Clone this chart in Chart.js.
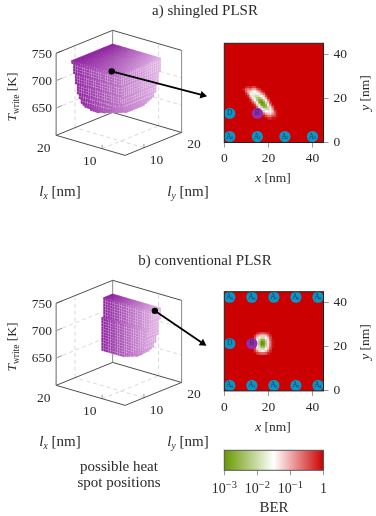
<!DOCTYPE html>
<html>
<head>
<meta charset="utf-8">
<script src="https://cdn.jsdelivr.net/npm/chart.js@4/dist/chart.umd.min.js"></script>
<style>
    body { margin: 0; background: #fff; width: 376px; height: 516px; overflow: hidden; position: relative; }
    canvas { position: absolute; }
    .lbl { position: absolute; transform: translate(-50%, -50%); white-space: nowrap; color: #2a2a2a; font: 13.5px "Liberation Serif", serif; }
    .big { font-size: 15px; }
    .rot { transform: translate(-50%, -50%) rotate(-90deg); }
    sub { font-size: 9.5px; vertical-align: -3px; line-height: 0; }
</style>
</head>
<body>
<canvas id="box-a" width="212" height="200" style="left:0;top:0"></canvas>
<canvas id="box-b" width="212" height="200" style="left:0;top:250px"></canvas>
<canvas id="heat-a" width="164" height="160" style="left:212px;top:30px"></canvas>
<canvas id="heat-b" width="164" height="160" style="left:212px;top:280px"></canvas>
<canvas id="colorbar" width="164" height="60" style="left:212px;top:440px"></canvas>

<div class="lbl big" style="left:205px;top:10px">a) shingled PLSR</div>
<div class="lbl big" style="left:205px;top:260px">b) conventional PLSR</div>
<div class="lbl rot" style="left:12px;top:97px"><i>T</i><sub>write</sub> [K]</div>
<div class="lbl rot" style="left:12px;top:347px"><i>T</i><sub>write</sub> [K]</div>
<div class="lbl big" style="left:60px;top:191px"><i>l<sub>x</sub></i> [nm]</div>
<div class="lbl big" style="left:188px;top:191px"><i>l<sub>y</sub></i> [nm]</div>
<div class="lbl big" style="left:60px;top:441px"><i>l<sub>x</sub></i> [nm]</div>
<div class="lbl big" style="left:188px;top:441px"><i>l<sub>y</sub></i> [nm]</div>
<div class="lbl" style="left:273px;top:178px"><i>x</i> [nm]</div>
<div class="lbl rot" style="left:365px;top:93px"><i>y</i> [nm]</div>
<div class="lbl" style="left:273px;top:427px"><i>x</i> [nm]</div>
<div class="lbl rot" style="left:365px;top:342px"><i>y</i> [nm]</div>
<div class="lbl big" style="left:119px;top:466px">possible heat</div>
<div class="lbl big" style="left:119px;top:482px">spot positions</div>
<div class="lbl big" style="left:274px;top:507px">BER</div>

<script>
// 3D box axes
const lxRange = [5, 20];
const lyRange = [5, 20];
const tRange = [600, 750];
const lxTicks = [10, 20];
const lyTicks = [10, 20];
const tTicks = [650, 700, 750];

// voxel layers, lowest first: each one spans lxMin..20, lyMin..20 and 5 K in T,
// the front corner is cut by the given amount. lxMin = 20 means an empty layer
const layerT = [620, 625, 630, 635, 640, 645, 650, 655, 660, 665, 670, 675, 680, 685, 690, 695, 700, 705, 710, 715, 720];
const lxMinA = [15, 14.5, 13, 12.5, 12, 11.5, 11, 11, 10.5, 10.5, 10.5, 10, 10, 10, 10, 10, 9.5, 9.5, 9.5, 9.5, 9.5];
const lyMinA = [14, 13.5, 12.5, 12, 11.5, 11.5, 11, 11, 10.5, 10.5, 10.5, 10.5, 10, 10, 10, 10, 9.5, 9.5, 9.5, 9.5, 9];
const cutA = [3, 3, 2.5, 2, 1.5, 1, 1, 0.5, 0.5, 0, 0, 0, 0, 0, 0, 0, 0, 0, 0, 0, 0];
const lxMinB = [20, 20, 13.5, 13, 12, 11.5, 11, 11, 10.5, 10.5, 10.5, 10, 10, 10, 10, 10, 10, 9.5, 9.5, 9.5, 9.5];
const lyMinB = [20, 20, 17, 17, 17, 17, 17, 17, 17, 17, 17, 17, 17, 17, 17.5, 17.5, 17.5, 17.5, 17.5, 17.5, 17.5];
const cutB = [0, 0, 1.5, 1, 1, 0.5, 0.5, 0, 0, 0, 0, 0, 0, 0, 0, 0, 0, 0, 0, 0, 0];

// arrows from the operating point to the heat map, in plot units
const arrowXA = [112, 207];
const arrowYA = [70, 95];
const arrowXB = [157, 207];
const arrowYB = [59, 93];

// heat map axes
const xyTicks = [0, 20, 40];

// BER maps, log10(BER) x 10, everything else is 0 (red)
const heatColsA = [9, 10, 11, 12, 13, 14, 15, 16, 17, 18, 19, 20, 21, 22, 23, 24];
const heatRowsA = [25, 24, 23, 22, 21, 20, 19, 18, 17, 16, 15, 14, 13, 12, 11];
const heatA = [
    [0, -2, -3, -2, -4, -4, -1, 0, 0, 0, 0, 0, 0, 0, 0, 0],
    [-2, -6, -8, -7, -10, -10, -6, -3, 0, 0, 0, 0, 0, 0, 0, 0],
    [0, -6, -11, -12, -14, -15, -12, -9, -4, -1, 0, 0, 0, 0, 0, 0],
    [0, -2, -8, -15, -17, -17, -16, -14, -10, -6, 0, 0, 0, 0, 0, 0],
    [0, 0, -3, -12, -17, -20, -20, -18, -15, -12, -4, 0, 0, 0, 0, 0],
    [0, 0, 0, -7, -14, -18, -23, -24, -20, -16, -10, -2, 0, 0, 0, 0],
    [0, 0, 0, -2, -10, -15, -22, -27, -28, -22, -15, -7, 0, 0, 0, 0],
    [0, 0, 0, 0, -4, -10, -16, -27, -30, -28, -20, -12, -3, 0, 0, 0],
    [0, 0, 0, 0, -1, -4, -12, -18, -28, -28, -25, -16, -8, -1, 0, 0],
    [0, 0, 0, 0, 0, -1, -6, -14, -20, -26, -25, -20, -13, -5, 0, 0],
    [0, 0, 0, 0, 0, 0, -1, -9, -15, -18, -20, -20, -16, -9, -1, 0],
    [0, 0, 0, 0, 0, 0, 0, -3, -10, -12, -15, -16, -16, -12, -4, 0],
    [0, 0, 0, 0, 0, 0, 0, 0, -4, -6, -10, -12, -13, -9, -6, -1],
    [0, 0, 0, 0, 0, 0, 0, 0, 0, -1, -4, -7, -8, -5, -4, -1],
    [0, 0, 0, 0, 0, 0, 0, 0, 0, 0, 0, -2, -3, -1, -1, 0]
];
const heatColsB = [13, 14, 15, 16, 17, 18, 19, 20, 21, 22];
const heatRowsB = [26, 25, 24, 23, 22, 21, 20, 19, 18, 17];
const heatB = [
    [0, 0, -2, -4, -5, -5, -4, -2, 0, 0],
    [0, -3, -8, -11, -12, -12, -11, -7, -2, 0],
    [0, -5, -12, -16, -20, -20, -15, -11, -4, 0],
    [-2, -7, -15, -20, -26, -26, -20, -13, -6, -1],
    [-3, -8, -16, -22, -30, -29, -22, -14, -7, -1],
    [-3, -8, -16, -22, -30, -29, -22, -14, -7, -1],
    [-2, -7, -15, -20, -26, -26, -20, -13, -6, -1],
    [0, -5, -12, -17, -20, -20, -16, -11, -4, 0],
    [0, -3, -8, -12, -14, -14, -11, -7, -2, 0],
    [0, 0, -3, -5, -6, -6, -5, -2, 0, 0]
];

// heat spot positions
const spotNamesA = ['A0', 'A1', 'A2', 'A3', 'D', 'B'];
const spotXA = [2.5, 15, 27.5, 40, 2.5, 15];
const spotYA = [2.7, 2.7, 2.7, 2.7, 13.2, 13.2];
const spotNamesB = ['A0', 'A1', 'A2', 'A3', 'A4', 'A5', 'A6', 'A7', 'A8', 'A9', 'D', 'B'];
const spotXB = [2.5, 12.5, 22.5, 32.5, 42.5, 2.5, 12.5, 22.5, 32.5, 42.5, 2.5, 12.5];
const spotYB = [2.5, 2.5, 2.5, 2.5, 2.5, 42.5, 42.5, 42.5, 42.5, 42.5, 21.5, 21.5];

// colour bar
const berRange = [[0.001, 1]];
const berTicks = [0.001, 0.01, 0.1, 1];
const berExponents = ['−3', '−2', '−1', ''];

const serif = '"Liberation Serif", serif';
const heatGreen = [104, 152, 0];
const heatRed = [204, 0, 0];

function project(lx, ly, t) {
    return {
        x: 126 - (lx - 5) * 4.8 + (ly - 5) * 3.93,
        y: 158 - (lx - 5) * 1.4 - (ly - 5) * 1.6 - (t - 600) * 0.573
    };
}

function segment(a, b) {
    return [project(a[0], a[1], a[2]), project(b[0], b[1], b[2])];
}

function berColor(v) {
    // v is log10(BER): red at 0, white at -1.5, green at -3
    const f = Math.min(Math.abs(v + 1.5) / 1.5, 1);
    const end = v > -1.5 ? heatRed : heatGreen;
    const c = end.map(e => Math.round(255 + (e - 255) * f));
    return `rgb(${c[0]},${c[1]},${c[2]})`;
}

function voxelCells(lxMin, lyMin, cut) {
    const cells = [];
    const add = (lx, ly, t, face) => cells.push({ ...project(lx, ly, t), lx, ly, t, face });
    layerT.forEach((t, k) => {
        const a = lxMin[k], b = lyMin[k];
        // ledge left open by a narrower layer above
        if (k < layerT.length - 1 && a < 20) {
            for (let ly = lyMin[k + 1]; ly > b; ly -= 0.5) {
                for (let lx = 20; lx > a; lx -= 0.5) add(lx, ly, t + 5, 'z');
            }
        }
        for (let ly = 20; ly > b; ly -= 0.5) {
            const face = a + Math.max(0, cut[k] - (ly - 0.5 - b));
            add(face, ly, t, 'x');
        }
        for (let lx = 20; lx > a; lx -= 0.5) {
            const face = b + Math.max(0, cut[k] - (lx - 0.5 - a));
            add(lx, face, t, 'y');
        }
    });
    const top = layerT.length - 1;
    for (let lx = 20; lx > lxMin[top]; lx -= 0.5) {
        for (let ly = 20; ly > lyMin[top]; ly -= 0.5) add(lx, ly, layerT[top] + 5, 'z');
    }
    return cells;
}

// draws the voxel faces right after their dataset, so the arrow stays on top
const voxelPlugin = {
    id: 'voxels',
    afterDatasetDraw(chart, args) {
        if (chart.data.datasets[args.index].label !== 'voxels') return;
        const ctx = chart.ctx, sx = chart.scales.x, sy = chart.scales.y;
        const cells = chart.data.datasets[args.index].data;
        ctx.save();
        ctx.lineWidth = 0.5;
        cells.forEach(c => {
            let q;
            if (c.face === 'x') {
                q = [[c.lx, c.ly, c.t], [c.lx, c.ly - 0.5, c.t], [c.lx, c.ly - 0.5, c.t + 5], [c.lx, c.ly, c.t + 5]];
            } else if (c.face === 'y') {
                q = [[c.lx, c.ly, c.t], [c.lx - 0.5, c.ly, c.t], [c.lx - 0.5, c.ly, c.t + 5], [c.lx, c.ly, c.t + 5]];
            } else {
                q = [[c.lx, c.ly, c.t], [c.lx - 0.5, c.ly, c.t], [c.lx - 0.5, c.ly - 0.5, c.t], [c.lx, c.ly - 0.5, c.t]];
            }
            const f = Math.min((20 - c.lx) / 10.5, 1) * (0.55 + 0.45 * Math.max(0, c.ly - 9) / 11);
            const r = Math.round(140 + 85 * f), g = Math.round(30 + 150 * f), b = Math.round(158 + 70 * f);
            ctx.beginPath();
            q.forEach((p, i) => {
                const s = project(p[0], p[1], p[2]);
                const px = sx.getPixelForValue(s.x), py = sy.getPixelForValue(s.y);
                if (i === 0) ctx.moveTo(px, py); else ctx.lineTo(px, py);
            });
            ctx.closePath();
            ctx.fillStyle = `rgb(${r},${g},${b})`;
            ctx.fill();
            ctx.strokeStyle = c.face === 'z' ? `rgb(${r},${g},${b})` : 'rgba(255,235,255,0.2)';
            ctx.stroke();
        });
        ctx.restore();
    },
    afterDraw(chart) {
        const ctx = chart.ctx, sx = chart.scales.x, sy = chart.scales.y;
        const put = (text, x, y) => ctx.fillText(text, sx.getPixelForValue(x), sy.getPixelForValue(y));
        ctx.save();
        ctx.font = '13.5px ' + serif;
        ctx.fillStyle = '#2a2a2a';
        ctx.textAlign = 'center';
        ctx.textBaseline = 'middle';
        tTicks.forEach(t => {
            const p = project(20, 5, t);
            put(String(t), p.x - 15, p.y + 1);
        });
        lxTicks.forEach(v => {
            const p = project(v, 5, 600);
            put(String(v), p.x - 13, p.y + 13.5);
        });
        lyTicks.forEach(v => {
            const p = project(5, v, 600);
            put(String(v), p.x + 13, p.y + 13);
        });
        ctx.restore();
    }
};

function lineSet(segments, color, width, dash, order) {
    // one dataset per segment group, gaps made with null points
    const data = [];
    segments.forEach(s => { data.push(s[0], s[1], { x: null, y: null }); });
    return {
        type: 'scatter', data, showLine: true, spanGaps: false, pointRadius: 0,
        borderColor: color, borderWidth: width, borderDash: dash, order
    };
}

function makeBox(id, lxMin, lyMin, cut, arrowX, arrowY) {
    const [x0, x1] = lxRange, [y0, y1] = lyRange, [t0, t1] = tRange;
    const grid = [];
    lyTicks.slice(0, 1).forEach(v => {
        grid.push(segment([x1, v, t0], [x1, v, t1]), segment([x0, v, t0], [x1, v, t0]));
    });
    lxTicks.slice(0, 1).forEach(v => {
        grid.push(segment([v, y1, t0], [v, y1, t1]), segment([v, y0, t0], [v, y1, t0]));
    });
    tTicks.slice(0, 2).forEach(t => {
        grid.push(segment([x1, y0, t], [x1, y1, t]), segment([x1, y1, t], [x0, y1, t]));
    });
    const marks = [];
    tTicks.forEach(t => marks.push(segment([x1, y0, t], [x1, y0 + 1.6, t])));
    lxTicks.forEach(v => marks.push(segment([v, y0, t0], [v, y0, t0 + 7])));
    lyTicks.forEach(v => marks.push(segment([x0, v, t0], [x0, v, t0 + 7])));
    const dark = [
        segment([x1, y0, t1], [x1, y1, t1]), segment([x1, y1, t1], [x0, y1, t1]),
        segment([x1, y0, t0], [x0, y0, t0]), segment([x0, y0, t0], [x0, y1, t0]),
        segment([x1, y0, t0], [x1, y1, t0]), segment([x1, y1, t0], [x0, y1, t0])
    ];
    const verticals = [segment([x1, y1, t0], [x1, y1, t1]), segment([x0, y1, t0], [x0, y1, t1])];
    const leftEdge = [segment([x1, y0, t0], [x1, y0, t1])];
    const angle = Math.atan2(arrowY[1] - arrowY[0], arrowX[1] - arrowX[0]) * 180 / Math.PI + 90;

    new Chart(document.getElementById(id), {
        type: 'scatter',
        data: {
            datasets: [
                lineSet(grid, '#d9d9d9', 1, [4, 3], 6),
                lineSet(marks, '#999', 1, [], 5),
                lineSet(verticals, '#8a8a8a', 1, [], 4),
                lineSet(leftEdge, '#a0a0a0', 1.6, [], 4),
                lineSet(dark, '#4d4d4d', 1, [], 3),
                { label: 'voxels', type: 'scatter', data: voxelCells(lxMin, lyMin, cut), pointRadius: 0, order: 2 },
                {
                    type: 'scatter',
                    data: arrowX.map((x, i) => ({ x, y: arrowY[i] })),
                    showLine: true, borderColor: '#000', borderWidth: 1.8,
                    backgroundColor: '#000', pointBackgroundColor: '#000', pointBorderWidth: 0,
                    pointStyle: ['circle', 'triangle'], pointRadius: [3.2, 4.5], pointRotation: [0, angle], order: 1
                }
            ]
        },
        options: {
            responsive: false,
            animation: false,
            layout: { padding: 0 },
            plugins: { legend: { display: false }, tooltip: { enabled: false } },
            scales: {
                x: { type: 'linear', min: 0, max: 212, display: false },
                y: { type: 'linear', min: 0, max: 200, reverse: true, display: false }
            }
        },
        plugins: [voxelPlugin]
    });
}

const heatPlugin = {
    id: 'heatFrame',
    beforeDatasetsDraw(chart) {
        const a = chart.chartArea;
        chart.ctx.fillStyle = '#cc0000';
        chart.ctx.fillRect(a.left, a.top, a.right - a.left, a.bottom - a.top);
    },
    // soften the 1 nm cells a little, the spots stay sharp
    beforeDatasetDraw(chart, args) {
        if (args.index === 0) chart.ctx.filter = 'blur(0.7px)';
    },
    afterDatasetDraw(chart, args) {
        if (args.index === 0) chart.ctx.filter = 'none';
    },
    afterDraw(chart) {
        const ctx = chart.ctx, a = chart.chartArea;
        const set = chart.data.datasets[1];
        ctx.save();
        ctx.strokeStyle = '#222';
        ctx.lineWidth = 1;
        ctx.strokeRect(a.left, a.top, a.right - a.left, a.bottom - a.top);
        ctx.fillStyle = '#123c5a';
        ctx.textAlign = 'center';
        ctx.textBaseline = 'middle';
        set.data.forEach(p => {
            const x = chart.scales.x.getPixelForValue(p.x), y = chart.scales.y.getPixelForValue(p.y);
            ctx.font = '7.5px ' + serif;
            if (p.name.length > 1) {
                ctx.fillText(p.name[0], x - 1, y);
                ctx.font = '5px ' + serif;
                ctx.fillText(p.name[1], x + 2.3, y + 1.5);
            } else {
                ctx.fillText(p.name, x, y);
            }
        });
        ctx.restore();
    }
};

function makeHeat(id, top, cols, rows, values, names, xs, ys) {
    const cells = [];
    rows.forEach((y, r) => cols.forEach((x, c) => {
        if (values[r][c] !== 0) cells.push({ x, y, v: values[r][c] / 10 });
    }));
    new Chart(document.getElementById(id), {
        type: 'scatter',
        data: {
            datasets: [
                {
                    data: cells, pointStyle: 'rect', pointRadius: 1.9, pointBorderWidth: 0,
                    pointBackgroundColor: c => berColor(c.raw.v), order: 2
                },
                {
                    data: names.map((name, i) => ({ x: xs[i], y: ys[i], name })),
                    pointRadius: 5.6, pointBorderWidth: 0,
                    pointBackgroundColor: c => (c.raw.name === 'B' ? '#9a2bb0' : '#0b96c6'), order: 1
                }
            ]
        },
        options: {
            responsive: false,
            animation: false,
            layout: { padding: { left: 12.3, top, right: 0, bottom: 0 } },
            plugins: { legend: { display: false }, tooltip: { enabled: false } },
            scales: {
                x: {
                    type: 'linear', min: 0, max: 45,
                    afterBuildTicks: s => { s.ticks = xyTicks.map(value => ({ value })); },
                    afterFit: s => { s.height = 160 - top - 99.2; s.paddingLeft = 0; s.paddingRight = 0; },
                    grid: { drawOnChartArea: false, drawTicks: true, tickLength: 5, color: '#999' },
                    border: { display: false },
                    ticks: { padding: 3, maxRotation: 0, color: '#2a2a2a', font: { family: serif, size: 13.5 } }
                },
                y: {
                    type: 'linear', min: 0, max: 45, position: 'right',
                    afterBuildTicks: s => { s.ticks = xyTicks.map(value => ({ value })); },
                    afterFit: s => { s.width = 164 - 12.3 - 99.2; s.paddingTop = 0; s.paddingBottom = 0; },
                    grid: { drawOnChartArea: false, drawTicks: true, tickLength: 5, color: '#999' },
                    border: { display: false },
                    ticks: { padding: 5, color: '#2a2a2a', font: { family: serif, size: 13.5 } }
                }
            }
        },
        plugins: [heatPlugin]
    });
}

function makeColorbar() {
    new Chart(document.getElementById('colorbar'), {
        type: 'bar',
        data: {
            labels: ['BER'],
            datasets: [{
                data: berRange,
                categoryPercentage: 1,
                barPercentage: 1,
                backgroundColor: c => {
                    const a = c.chart.chartArea;
                    if (!a) return '#fff';
                    const g = c.chart.ctx.createLinearGradient(a.left, 0, a.right, 0);
                    g.addColorStop(0, berColor(-3));
                    g.addColorStop(0.5, berColor(-1.5));
                    g.addColorStop(1, berColor(0));
                    return g;
                }
            }]
        },
        options: {
            indexAxis: 'y',
            responsive: false,
            animation: false,
            layout: { padding: { left: 12.3, top: 10.3, right: 52.5, bottom: 0 } },
            plugins: { legend: { display: false }, tooltip: { enabled: false } },
            scales: {
                x: {
                    type: 'logarithmic', min: 0.001, max: 1,
                    afterBuildTicks: s => { s.ticks = berTicks.map(value => ({ value })); },
                    afterFit: s => { s.height = 60 - 10.3 - 20; s.paddingLeft = 0; s.paddingRight = 0; },
                    grid: { drawOnChartArea: false, drawTicks: true, tickLength: 5, color: '#999' },
                    border: { display: false },
                    ticks: { display: false, autoSkip: false }
                },
                y: { display: false }
            }
        },
        plugins: [{
            id: 'barFrame',
            afterDraw(chart) {
                const ctx = chart.ctx, a = chart.chartArea, sx = chart.scales.x;
                ctx.save();
                ctx.strokeStyle = '#555';
                ctx.lineWidth = 1;
                ctx.strokeRect(a.left, a.top, a.right - a.left, a.bottom - a.top);
                // tick labels, with real superscripts
                ctx.fillStyle = '#2a2a2a';
                ctx.textBaseline = 'alphabetic';
                ctx.textAlign = 'left';
                berTicks.forEach((v, i) => {
                    const x = sx.getPixelForValue(v);
                    const exp = berExponents[i];
                    const base = exp ? '10' : '1';
                    ctx.font = '14px ' + serif;
                    const w1 = ctx.measureText(base).width;
                    ctx.font = '10.5px ' + serif;
                    const w2 = ctx.measureText(exp).width;
                    ctx.font = '14px ' + serif;
                    ctx.fillText(base, x - (w1 + w2) / 2, a.bottom + 22.5);
                    ctx.font = '10.5px ' + serif;
                    ctx.fillText(exp, x - (w1 + w2) / 2 + w1, a.bottom + 17.5);
                });
                ctx.restore();
            }
        }]
    });
}

makeBox('box-a', lxMinA, lyMinA, cutA, arrowXA, arrowYA);
makeBox('box-b', lxMinB, lyMinB, cutB, arrowXB, arrowYB);
makeHeat('heat-a', 13.3, heatColsA, heatRowsA, heatA, spotNamesA, spotXA, spotYA);
makeHeat('heat-b', 11.7, heatColsB, heatRowsB, heatB, spotNamesB, spotXB, spotYB);
makeColorbar();
</script>
</body>
</html>
